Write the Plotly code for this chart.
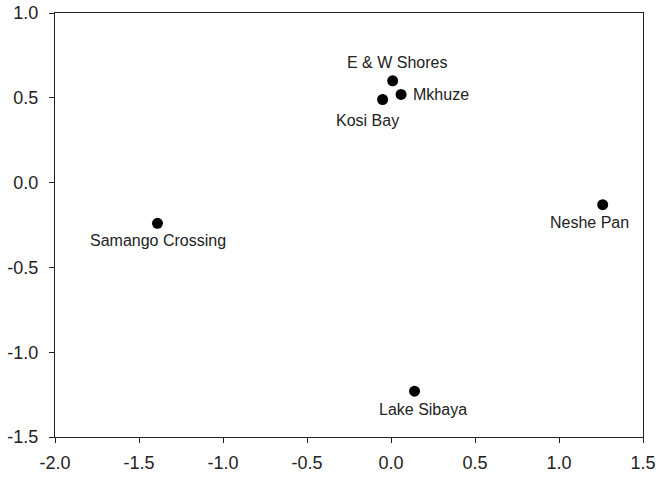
import plotly.graph_objects as go

sites = ["E & W Shores", "Mkhuze", "Kosi Bay", "Samango Crossing", "Lake Sibaya", "Neshe Pan"]
x_vals = [0.01, 0.06, -0.05, -1.39, 0.14, 1.26]
y_vals = [0.60, 0.52, 0.49, -0.24, -1.23, -0.13]
x_ticks = [-2.0, -1.5, -1.0, -0.5, 0.0, 0.5, 1.0, 1.5]
y_ticks = [-1.5, -1.0, -0.5, 0.0, 0.5, 1.0]

# label offsets in pixels (style)
offsets = {
    "E & W Shores": (4, 18),
    "Mkhuze": (40, 0),
    "Kosi Bay": (-15, -21),
    "Samango Crossing": (1, -17),
    "Lake Sibaya": (8, -18),
    "Neshe Pan": (-13, -18),
}

fig = go.Figure()
fig.add_trace(go.Scatter(x=x_vals, y=y_vals, mode="markers",
                         marker=dict(size=11, color="black"), hoverinfo="skip"))

for s, xv, yv in zip(sites, x_vals, y_vals):
    dx, dy = offsets[s]
    fig.add_annotation(x=xv, y=yv, text=s, showarrow=False, xshift=dx, yshift=dy,
                       font=dict(family="Liberation Sans, Arial", size=16, color="#222"))

axis_common = dict(showgrid=False, zeroline=False, showline=True, linecolor="#222",
                   linewidth=1.3, mirror=True, ticks="outside", ticklen=5,
                   tickcolor="#222", automargin=False,
                   tickfont=dict(family="Liberation Sans, Arial", size=18, color="#222"))
fig.update_xaxes(range=[-2.0, 1.5], tickvals=x_ticks, ticklabelstandoff=4,
                 ticktext=[f"{t:.1f}" for t in x_ticks], **axis_common)
fig.update_yaxes(range=[-1.5, 1.0], tickvals=y_ticks, ticklabelstandoff=7,
                 ticktext=[f"{t:.1f}" for t in y_ticks], **axis_common)
fig.update_layout(width=664, height=477, margin=dict(l=55, r=21, t=13, b=40),
                  plot_bgcolor="white", paper_bgcolor="white", showlegend=False)
fig.write_html("out.html", config={"displayModeBar": False},
               post_script="document.body.style.margin='0';document.body.style.overflow='hidden';")
